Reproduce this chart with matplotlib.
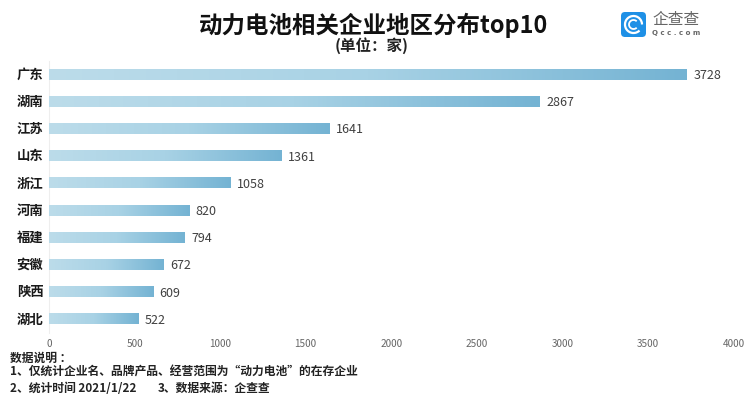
import numpy as np
import matplotlib
matplotlib.use('Agg')
import matplotlib.pyplot as plt
from matplotlib.colors import LinearSegmentedColormap
from matplotlib.patches import FancyBboxPatch, Arc

plt.rcParams['font.family'] = ['Noto Sans CJK SC', 'DejaVu Sans']

regions = ['广东', '湖南', '江苏', '山东', '浙江', '河南', '福建', '安徽', '陕西', '湖北']
counts = [3728, 2867, 1641, 1361, 1058, 820, 794, 672, 609, 522]
x_ticks = [0, 500, 1000, 1500, 2000, 2500, 3000, 3500, 4000]
W, H = 744, 405

fig = plt.figure(figsize=(W / 100, H / 100), dpi=100, facecolor='white')
ax = fig.add_axes([49 / W, 1 - 333 / H, (733.5 - 49) / W, (333 - 61) / H])
cmap = LinearSegmentedColormap.from_list('bar', ['#bcdcea', '#a8d2e5', '#74b3d3'])
grad = np.linspace(0, 1, 256).reshape(1, -1)
ypos = np.arange(len(regions))
bar_h = 0.37
bars = ax.barh(ypos, counts, height=bar_h, color='#a6d0e4', zorder=2)
for b in bars:
    im = ax.imshow(grad, cmap=cmap, aspect='auto', zorder=3,
                   extent=[b.get_x(), b.get_x() + b.get_width(), b.get_y() + b.get_height(), b.get_y()])
for y, v in zip(ypos, counts):
    ax.text(v + 38, y + 0.03, str(v), va='center', ha='left', fontsize=9, color='#404040', zorder=4)

ax.set_xlim(0, 4000)
ax.set_ylim(len(regions) - 0.5, -0.5)
ax.set_yticks(ypos, regions, fontsize=9.6, fontweight='bold', color='#1a1a1a')
for lab in ax.get_yticklabels():
    lab.set_verticalalignment('center')
    lab.set_y(lab.get_position()[1])
ax.set_xticks(x_ticks, [str(t) for t in x_ticks], fontsize=7.2, color='#666666')
ax.tick_params(length=0, axis='both')
ax.tick_params(axis='y', pad=4)
ax.tick_params(axis='x', pad=4.3)
for s in ['top', 'right', 'bottom']:
    ax.spines[s].set_visible(False)
ax.spines['left'].set_color('#eeeeee')

fig.text(373 / W, 1 - 25 / H, '动力电池相关企业地区分布top10', ha='center', va='center',
         fontsize=16.9, fontweight='bold', color='#111111')
fig.text(372 / W, 1 - 46 / H, '(单位：家)', ha='center', va='center',
         fontsize=11.2, fontweight='bold', color='#222222')

note_head = '数据说明 ：'
note_scope = '1、仅统计企业名、品牌产品、经营范围为“动力电池”的在存企业'
note_time = '2、统计时间 2021/1/22'
note_source = '3、数据来源：企查查'
for xp, yp, t in zip([10, 10, 10, 158], [358, 372.5, 388, 388],
                     [note_head, note_scope, note_time, note_source]):
    fig.text(xp / W, 1 - yp / H, t, ha='left', va='center', fontsize=8.5, fontweight='bold', color='#222222')

# logo
lax = fig.add_axes([0, 0, 1, 1], facecolor='none')
lax.set_xlim(0, W)
lax.set_ylim(H, 0)
lax.axis('off')
lax.add_patch(FancyBboxPatch((621, 12), 25, 25, boxstyle='round,pad=0,rounding_size=4',
                             fc='#1e90e6', ec='none', mutation_aspect=1))
lax.add_patch(Arc((633.5, 24.5), 17, 17, theta1=45, theta2=360, ec='white', lw=1.6))
lax.add_patch(Arc((633.5, 24.5), 9, 9, theta1=45, theta2=315, ec='white', lw=1.3))
lax.text(652, 19.5, '企查查', fontsize=11.3, color='#666666', ha='left', va='center')
lax.text(652, 33, 'Q c c . c o m', fontsize=5, fontweight='bold', color='#666666', ha='left', va='center',
         fontfamily='DejaVu Sans')

fig.savefig('out.png', dpi=100)
